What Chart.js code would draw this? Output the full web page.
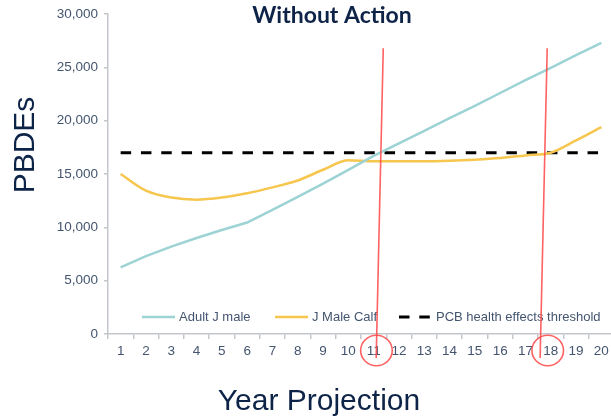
<!DOCTYPE html>
<html>
<head>
<meta charset="utf-8">
<script src="https://cdn.jsdelivr.net/npm/chart.js@4.4.0/dist/chart.umd.min.js"></script>
<style>
  html, body { margin: 0; padding: 0; background: #ffffff; overflow: hidden; }
  canvas { display: block; }
</style>
</head>
<body>
<canvas id="chart" width="614" height="417"></canvas>
<script>
// Projection years
const years = ['1','2','3','4','5','6','7','8','9','10','11','12','13','14','15','16','17','18','19','20'];

// PBDE levels per series
const adultMale = [6250, 7300, 8200, 9000, 9750, 10450, 11650, 12850, 14100, 15400,
                   16700, 17880, 19050, 20250, 21400, 22600, 23800, 24950, 26150, 27300];
const maleCalf  = [15000, 13450, 12800, 12600, 12800, 13200, 13750, 14400, 15400, 16300,
                   16200, 16200, 16200, 16250, 16350, 16500, 16750, 17000, 18150, 19400];
const thresholdLevel = 17000;
const threshold = years.map(() => thresholdLevel);

// Value axis range
const yMin = 0;
const yMax = 30000;
const yStep = 5000;

// Hand-drawn call-outs: years where a series reaches the threshold
const callouts = [
  { top: 11.38, bottom: 11.10, ring: 11.11 },
  { top: 17.86, bottom: 17.58, ring: 17.88 }
];

const navy = '#0D2347';
const tickColor = '#44556F';
const axisColor = '#C3C7CC';
const baseFont = "'Liberation Sans', Arial, sans-serif";

// left edge of each legend entry's sample line
const legendStarts = [142, 275, 399];

const textPlugin = {
  id: 'textPlugin',
  afterDraw(chart) {
    const ctx = chart.ctx;
    const area = chart.chartArea;
    const x = chart.scales.x;
    const y = chart.scales.y;

    ctx.save();
    // legend inside the plot, along the bottom
    ctx.font = "13px " + baseFont;
    ctx.textBaseline = 'middle';
    const legY = y.getPixelForValue(1600);
    chart.data.datasets.forEach((ds, i) => {
      const lx = legendStarts[i];
      ctx.save();
      ctx.strokeStyle = ds.borderColor;
      ctx.lineWidth = ds.borderWidth;
      ctx.setLineDash(ds.borderDash || []);
      ctx.beginPath();
      ctx.moveTo(lx, legY);
      ctx.lineTo(lx + 33, legY);
      ctx.stroke();
      ctx.restore();
      ctx.fillStyle = tickColor;
      ctx.textAlign = 'left';
      ctx.fillText(ds.label, lx + 37, legY);
    });

    // chart title
    ctx.fillStyle = navy;
    ctx.textAlign = 'center';
    ctx.font = "bold 23px Lato, 'Liberation Sans', sans-serif";
    ctx.fillText('Without Action', 332, 16);

    // axis titles
    ctx.font = "30px " + baseFont;
    ctx.fillText('Year Projection', 319, 402);
    ctx.save();
    ctx.translate(25, 145);
    ctx.rotate(-Math.PI / 2);
    ctx.fillText('PBDEs', 0, 1);
    ctx.restore();

    // red call-out lines and rings
    const idx = v => x.getPixelForValue(v - 1);
    ctx.strokeStyle = 'rgba(255, 70, 70, 0.85)';
    ctx.lineWidth = 1.6;
    callouts.forEach(c => {
      ctx.beginPath();
      ctx.moveTo(idx(c.top), y.getPixelForValue(26800));
      ctx.lineTo(idx(c.bottom), area.bottom + 24);
      ctx.stroke();
      ctx.beginPath();
      ctx.ellipse(idx(c.ring), area.bottom + 16.5, 15.8, 15.2, 0, 0, Math.PI * 2);
      ctx.stroke();
    });
    ctx.restore();
  }
};

new Chart(document.getElementById('chart'), {
  type: 'line',
  data: {
    labels: years,
    datasets: [
      {
        label: 'Adult J male',
        data: adultMale,
        borderColor: '#9DD3D4',
        borderWidth: 2.5,
        pointRadius: 0,
        tension: 0
      },
      {
        label: 'J Male Calf',
        data: maleCalf,
        borderColor: '#F6C64E',
        borderWidth: 2.5,
        pointRadius: 0,
        cubicInterpolationMode: 'monotone'
      },
      {
        label: 'PCB health effects threshold',
        data: threshold,
        borderColor: '#000000',
        borderWidth: 3,
        borderDash: [10.5, 9.8],
        pointRadius: 0
      }
    ]
  },
  options: {
    responsive: false,
    animation: false,
    layout: { padding: { top: 13, left: 0, right: 0, bottom: 0 } },
    plugins: {
      legend: { display: false },
      title: { display: false },
      tooltip: { enabled: false }
    },
    scales: {
      x: {
        offset: true,
        afterFit(scale) { scale.height = 83; },
        grid: {
          offset: true,
          drawOnChartArea: false,
          drawTicks: true,
          tickLength: 5,
          color: axisColor,
          lineWidth: 1.5
        },
        border: { color: axisColor, width: 1.5 },
        ticks: {
          color: tickColor,
          font: { family: baseFont, size: 13.5 },
          padding: 4,
          maxRotation: 0,
          autoSkip: false
        }
      },
      y: {
        min: yMin,
        max: yMax,
        afterFit(scale) { scale.width = 108; },
        grid: {
          drawOnChartArea: false,
          drawTicks: true,
          tickLength: 4,
          color: axisColor,
          lineWidth: 1.5
        },
        border: { color: axisColor, width: 1.5 },
        ticks: {
          stepSize: yStep,
          color: tickColor,
          font: { family: baseFont, size: 13.5 },
          padding: 6
        }
      }
    }
  },
  plugins: [textPlugin]
});
</script>
</body>
</html>
